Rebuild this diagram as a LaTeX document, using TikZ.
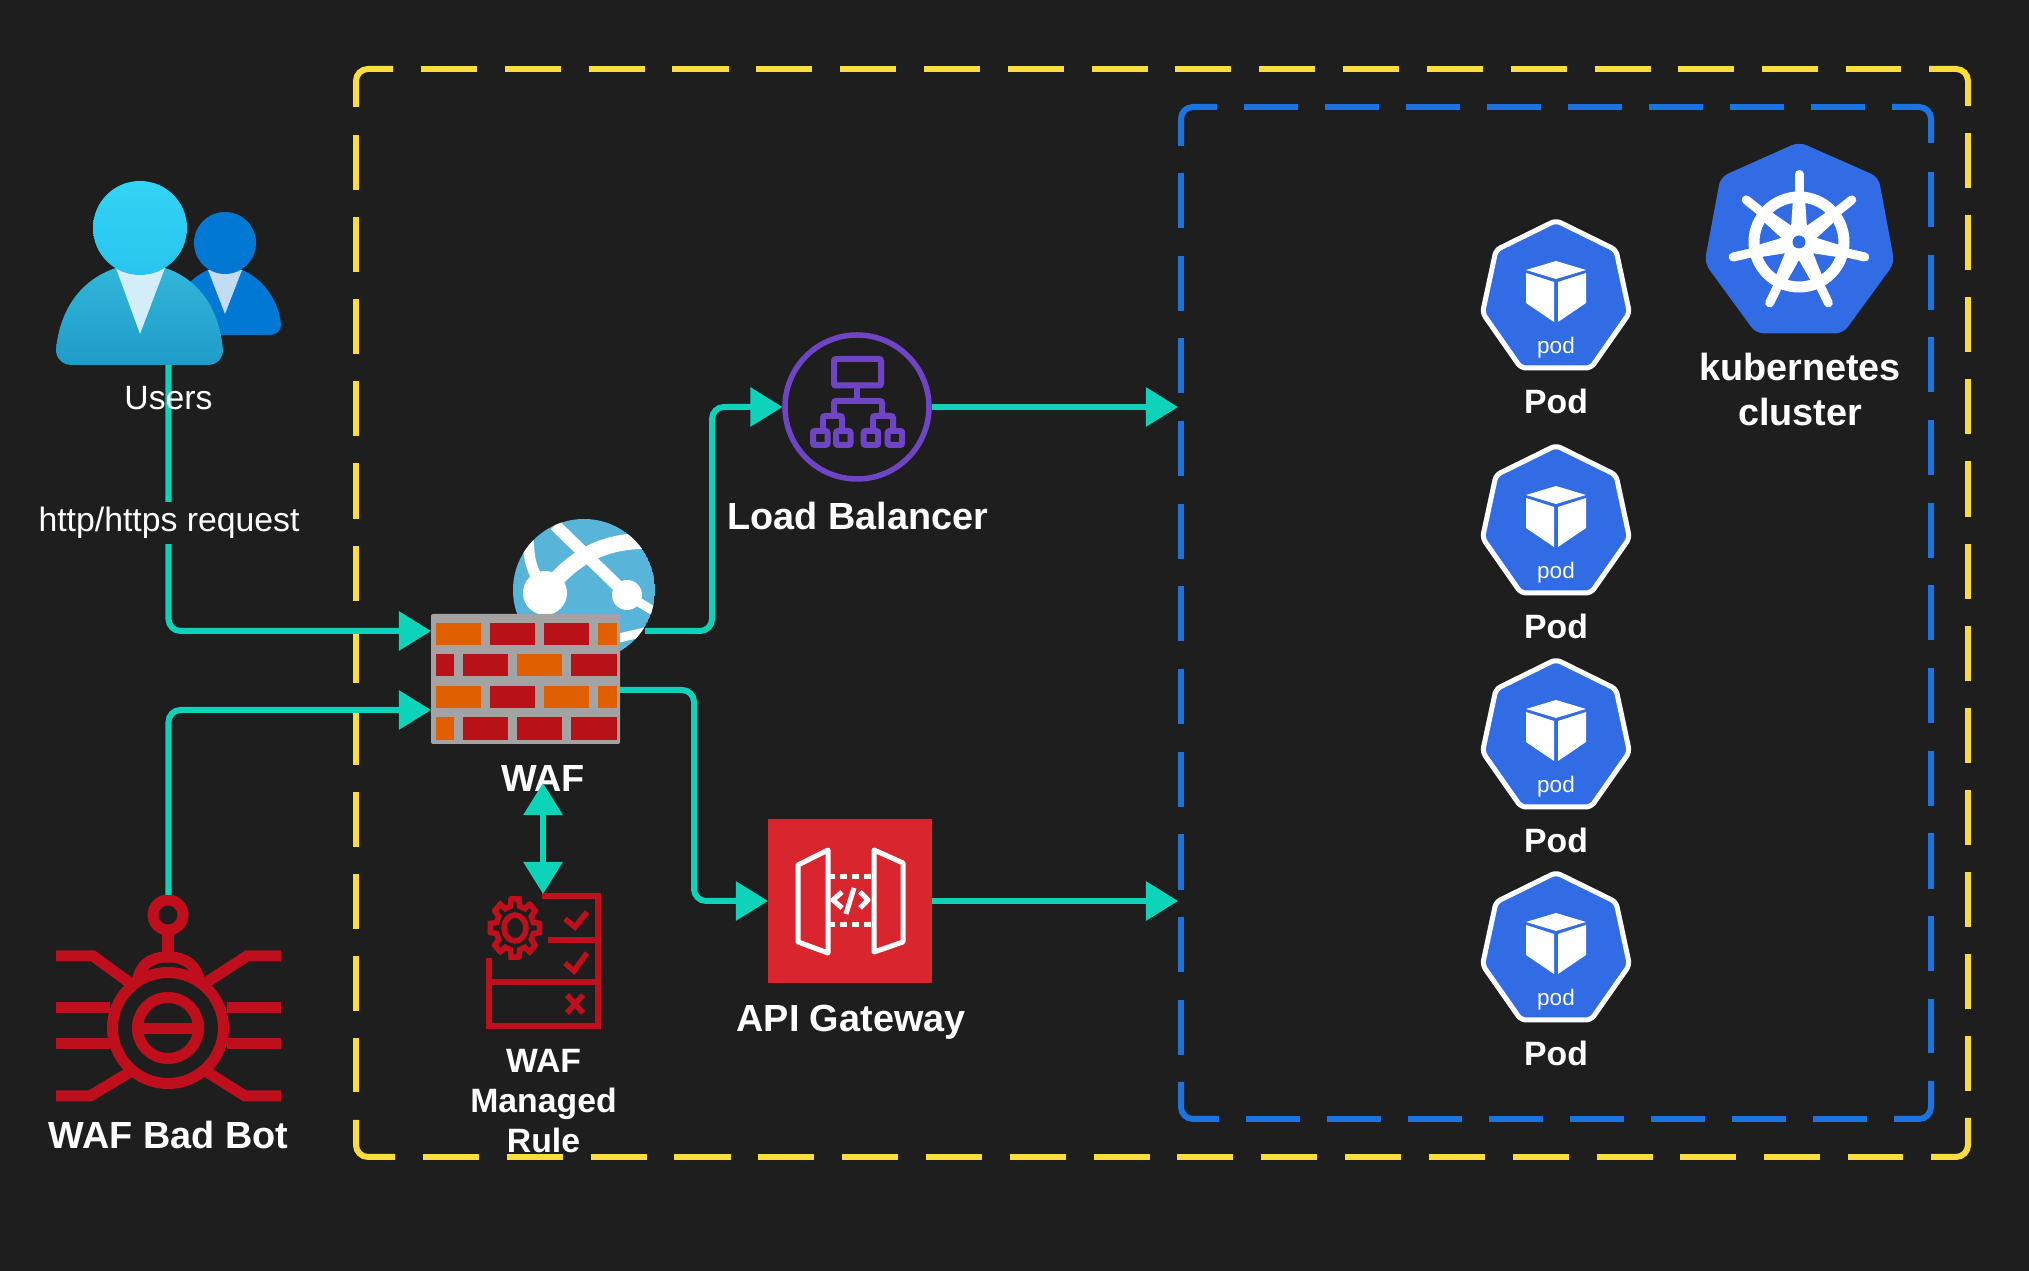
\documentclass[tikz,border=0pt]{standalone}
\usepackage{fontspec}
\setmainfont{Liberation Sans}
\usetikzlibrary{arrows.meta}
\definecolor{bgdark}{HTML}{1E1E1E}
\definecolor{flowteal}{HTML}{0DD3BB}
\definecolor{wafyellow}{HTML}{FBDC3C}
\definecolor{k8sblue}{HTML}{1B74E0}
\definecolor{podblue}{HTML}{326CE5}
\definecolor{botred}{HTML}{C00F1C}
\definecolor{brickred}{HTML}{B81218}
\definecolor{brickorange}{HTML}{E05F00}
\definecolor{wallgrey}{HTML}{A3A3A3}
\definecolor{lbpurple}{HTML}{6F45C6}
\definecolor{apired}{HTML}{D9262E}
\definecolor{globeblue}{HTML}{59B4D9}
\definecolor{userdark}{HTML}{0078D4}
\definecolor{usertie}{HTML}{C3DCF2}
\definecolor{bigtie}{HTML}{D3EEF9}
\definecolor{bodytop}{HTML}{32B6D9}
\definecolor{bodybot}{HTML}{1F9BC8}
\definecolor{headtop}{HTML}{32D4F5}
\definecolor{headbot}{HTML}{29C4EE}
\tikzset{
  px/.style={line width=#1*0.2845pt},
  flow/.style={draw=flowteal,px=6,rounded corners=.12cm,-{Triangle[length=.32cm,width=.38cm]}},
  flowboth/.style={draw=flowteal,px=6,{Triangle[length=.32cm,width=.38cm]}-{Triangle[length=.32cm,width=.38cm]}},
  iconbox/.style={inner sep=0pt,outer sep=0pt},
  boldlabel/.style={text=white,align=center,font=\fontsize{10.75}{11.4}\selectfont\bfseries},
  smalllabel/.style={text=white,align=center,font=\fontsize{9.6}{11.4}\selectfont\bfseries},
  plainlabel/.style={text=white,font=\fontsize{9.6}{11}\selectfont},
  outeredge/.style={draw=wafyellow,px=6,rounded corners=.12cm},
  outerwide/.style={outeredge,dash pattern=on .56cm off .2778cm},
  outertall/.style={outeredge,dash pattern=on .55cm off .2708cm},
  inneredge/.style={draw=k8sblue,px=6,rounded corners=.12cm},
  innerwide/.style={inneredge,dash pattern=on .54cm off .27cm},
  innertall/.style={inneredge,dash pattern=on .55cm off .2764cm},
  botline/.style={draw=botred,px=11},
  ruleline/.style={draw=botred,px=5.5},
  lbline/.style={draw=lbpurple,px=6,rounded corners=.02cm},
  apiline/.style={draw=white,px=5,line join=round},
}
\newcommand{\brickrow}[2]{%
  \foreach \xa/\xb/\brickcol in {#2} {
    \fill[\brickcol] (\xa,#1) rectangle (\xb,#1+22.5);
  }}
\begin{document}
\begin{tikzpicture}[x=.01cm,y=-.01cm]
\useasboundingbox (0,0) rectangle (2029,1271);
\fill[bgdark] (0,0) rectangle (2029,1271);

% outer box
\draw[outeredge] (356,107) -- (356,69) -- (393,69);
\draw[outerwide] (421,69) -- (1901,69);
\draw[outeredge] (1929,69) -- (1968,69) -- (1968,106);
\draw[outertall] (1968,133) -- (1968,1091);
\draw[outeredge] (1968,1118) -- (1968,1157) -- (1931,1157);
\draw[outerwide] (423,1157) -- (1903,1157);
\draw[outeredge] (395,1157) -- (356,1157) -- (356,1120);
\draw[outertall] (356,135) -- (356,1092);

% inner box
\draw[inneredge] (1181,146) -- (1181,107) -- (1217,107);
\draw[innerwide] (1244,107) -- (1866,107);
\draw[inneredge] (1892,107) -- (1931,107) -- (1931,143);
\draw[innertall] (1931,172) -- (1931,1053);
\draw[inneredge] (1931,1081) -- (1931,1119) -- (1894,1119);
\draw[innerwide] (1246,1119) -- (1867,1119);
\draw[inneredge] (1219,1119) -- (1181,1119) -- (1181,1082);
\draw[innertall] (1181,173) -- (1181,1055);

% users
\fill[userdark] (170,335) -- (270,335) .. controls (277,335) and (281,330) .. (281,325) .. controls (279,300) and (262,278) .. (242,270) -- (208,270) .. controls (190,278) and (175,295) .. (170,320) -- cycle;
\fill[usertie] (208,270) -- (242,270) -- (225,314) -- cycle;
\fill[userdark] (225,243) circle (31);
\shade[top color=bodytop,bottom color=bodybot] (72,365) .. controls (62,365) and (56,358) .. (56,350) .. controls (60,305) and (85,278) .. (116,268) -- (165,268) .. controls (196,278) and (219,305) .. (223,350) .. controls (223,358) and (217,365) .. (208,365) -- cycle;
\fill[bigtie] (116,268) -- (165,268) -- (140,334) -- cycle;
\shade[top color=headtop,bottom color=headbot] (140,228) circle (47);
\node[iconbox,minimum width=2.25cm,minimum height=2.05cm] (users) at (168.5,262.5) {};

% bad bot
\draw[botline] (168,915) circle (15);
\draw[botline] (168,930) -- (168,957);
\draw[botline] (137,982) .. controls (140,965) and (150,957) .. (168,957) .. controls (186,957) and (196,965) .. (200,982);
\draw[botline] (168,1028) circle (55.5);
\draw[botline] (168,1028) circle (30.5);
\draw[botline] (137,1029) -- (199,1029);
\draw[botline] (56,956) -- (93,956) -- (130,983);
\draw[botline] (281,956) -- (247,956) -- (207,982);
\draw[botline] (56,1008) -- (110,1008);
\draw[botline] (227,1008) -- (281,1008);
\draw[botline] (56,1044) -- (110,1044);
\draw[botline] (227,1044) -- (281,1044);
\draw[botline] (56,1096) -- (90,1096) -- (130,1072);
\draw[botline] (281,1096) -- (245,1096) -- (207,1072);
\node[iconbox,minimum width=2.25cm,minimum height=2.06cm] (bot) at (168.5,998) {};

% globe and wall
\begin{scope}
\clip (584,590) circle (71);
\fill[globeblue] (584,590) circle (71);
\draw[white,px=16] (545,593) .. controls (570,560) and (600,541) .. (645,541);
\draw[white,px=12] (555,525) -- (627,595);
\draw[white,px=9] (627,595) -- (660,615);
\draw[white,px=11] (528,540) .. controls (530,565) .. (545,593);
\draw[white,px=9] (610,640) -- (645,632);
\fill[white] (545,593) circle (22);
\fill[white] (627,595) circle (15);
\end{scope}
\fill[wallgrey,rounded corners=.02cm] (431,614) rectangle (620,744);
\brickrow{622.7}{436/481/brickorange,490/535/brickred,544/589/brickred,598/617/brickorange}
\brickrow{654}{436/454/brickred,463/508/brickred,517/562/brickorange,571/617/brickred}
\brickrow{685.7}{436/481/brickorange,490/535/brickred,544/589/brickorange,598/617/brickorange}
\brickrow{717.5}{436/454/brickorange,463/508/brickred,517/562/brickred,571/617/brickred}
\node[iconbox,minimum width=1.89cm,minimum height=1.30cm] (wall) at (525.5,679) {};
\coordinate (wallinA) at (431,631);
\coordinate (wallinB) at (431,710);
\coordinate (walloutA) at (645,631);
\coordinate (walloutB) at (620,690);

% load balancer
\node[iconbox,circle,minimum size=1.49cm] (lb) at (857,407) {};
\draw[draw=lbpurple,px=5.5] (857,407) circle (72);
\draw[lbline] (834,359) rectangle (881,385.5);
\draw[lbline] (857,388) -- (857,401);
\draw[lbline] (834,416) -- (834,401) -- (882,401) -- (882,416);
\draw[lbline] (823,428) -- (823,416) -- (842,416) -- (842,428);
\draw[lbline] (873,428) -- (873,416) -- (893,416) -- (893,428);
\foreach \xleft in {813,836,863.7,887.7} {
  \draw[lbline] (\xleft,431) rectangle (\xleft+14.5,445);
}

% api gateway
\node[iconbox,fill=apired,minimum size=1.64cm] (api) at (850,901) {};
\draw[apiline] (828,850) -- (798,865) -- (798,942) -- (828,953) -- cycle;
\draw[apiline] (874,850) -- (903,863) -- (903,942) -- (874,952) -- cycle;
\draw[apiline,dash pattern=on .07cm off .05cm] (828,877) -- (874,877);
\draw[apiline,dash pattern=on .07cm off .05cm] (828,925) -- (874,925);
\draw[apiline] (842,892) -- (833,900) -- (842,908);
\draw[apiline] (860,892) -- (868,900) -- (860,908);
\draw[apiline] (854,888) -- (846,914);

% waf rule
\draw[ruleline] (542,896) -- (598,896) -- (598,1026) -- (489,1026) -- (489,958);
\draw[ruleline] (548,940) -- (598,940);
\draw[ruleline] (489,982) -- (598,982);
\draw[ruleline] (565,919) -- (575,927) -- (587,912);
\draw[ruleline] (565,963) -- (574,971) -- (587,953);
\draw[ruleline] (567,995) -- (583,1013);
\draw[ruleline] (583,995) -- (567,1013);
\begin{scope}[shift={(515,928)},yscale=1.18]
\draw[ruleline] (0,0) circle (11);
\foreach \gearang in {0,45,...,315} {
  \draw[ruleline,line cap=round] (\gearang-9:25) -- (\gearang+9:25) -- (\gearang+14:19) -- (\gearang+31:19) -- (\gearang+36:25);
}
\end{scope}
\node[iconbox,minimum width=1.10cm,minimum height=1.32cm] (rule) at (543,960) {};

% kubernetes
\fill[podblue,rounded corners=.08cm] (1799,142) -- (1878.5,177) -- (1894.5,263) -- (1843,333.5) -- (1756,333.5) -- (1704.5,263) -- (1720.5,177) -- cycle;
\begin{scope}[shift={(1799,242)}]
\draw[white,px=11] (0,0) circle (45);
\foreach \spokeang in {0,1,...,6} {
  \begin{scope}[rotate=90+\spokeang*360/7]
  \fill[white] (0,-9) -- (50,-5.5) -- (50,5.5) -- (0,9) -- cycle;
  \draw[white,px=9,line cap=round] (45,0) -- (67.5,0);
  \end{scope}
}
\fill[white] (0,0) circle (15);
\fill[podblue] (0,0) circle (6.5);
\end{scope}

% pods
\foreach \podname/\podtop in {podA/220,podB/445,podC/659,podD/872} {
\begin{scope}[shift={(1556,\podtop)}]
\draw[draw=white,fill=podblue,px=5,rounded corners=.05cm] (0,0.5) -- (60,30) -- (73.5,93) -- (35,148) -- (-35,148) -- (-73.5,93) -- (-60,30) -- cycle;
\fill[white] (0,41) -- (-30,50) -- (0,59) -- (30,50) -- cycle;
\fill[white] (-30,53) -- (-2,62) -- (-2,102) -- (-30,83) -- cycle;
\fill[white] (2,62) -- (30,53) -- (30,83) -- (2,102) -- cycle;
\node[text=white,font=\fontsize{6.4}{8}\selectfont] (\podname text) at (0,128) {pod};
\node[smalllabel] (\podname) at (0,181) {Pod};
\end{scope}
}

% connectors
\node[boldlabel] (waflabel) at (543,779) {WAF};
\draw[flow] (users.south) |- (wallinA);
\draw[flow] (bot.north) |- (wallinB);
\draw[flow] (walloutA) -- (712,631) |- (lb.west);
\draw[flow] (walloutB) -- (694,690) |- (api.west);
\coordinate (wafbelow) at (543,783);
\draw[flowboth] (wafbelow) -- (rule.north);
\coordinate (lbout) at (1178,407);
\coordinate (apiout) at (1178,901);
\draw[flow] (lb.east) -- (lbout);
\draw[flow] (api.east) -- (apiout);

% labels
\node[plainlabel] (userslabel) at (168.5,398.5) {Users};
\node[plainlabel,fill=bgdark,inner sep=1.5pt] (reqlabel) at (169,523) {http/https request};
\node[boldlabel] (lblabel) at (858,516) {Load Balancer};
\node[boldlabel] (apilabel) at (851,1022) {API Gateway};
\node[boldlabel] (botlabel) at (168.5,1135) {WAF Bad Bot};
\node[smalllabel] (rulelabel) at (543.5,1101) {WAF\\Managed\\Rule};
\node[boldlabel,font=\fontsize{10.75}{12.8}\selectfont\bfseries] (k8slabel) at (1800,389.5) {kubernetes\\cluster};
\end{tikzpicture}
\end{document}
